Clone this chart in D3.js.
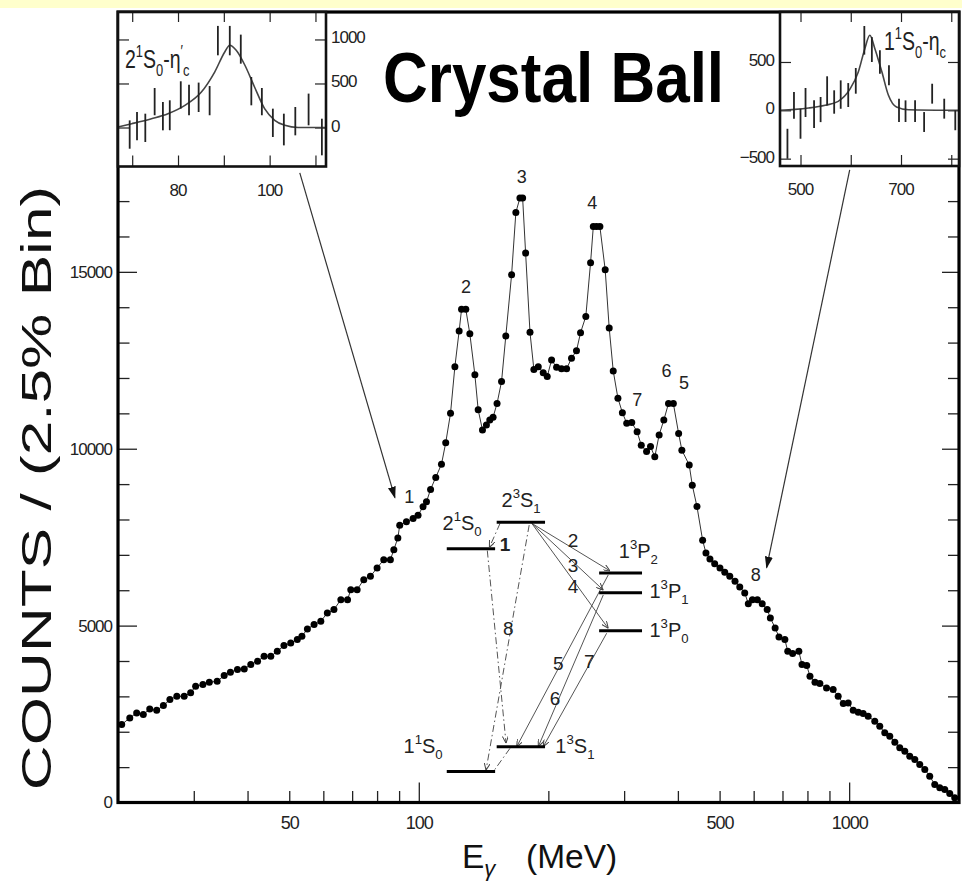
<!DOCTYPE html>
<html>
<head>
<meta charset="utf-8">
<script src="https://cdnjs.cloudflare.com/ajax/libs/d3/7.8.5/d3.min.js"></script>
<style>
  body { margin: 0; background: #fff; }
  svg { display: block; font-family: "Liberation Sans", Arial, Helvetica, sans-serif; }
</style>
</head>
<body>
<script>
// --- Spectrum: E_gamma (MeV) vs counts per 2.5% bin
var energy = [20.4, 21.3, 22.1, 22.9, 23.7, 24.6, 25.5, 26.4, 27.4, 28.5, 29.5, 30.3, 31.5, 32.6, 34.0, 35.3,
  36.5, 37.9, 39.3, 40.7, 42.2, 43.7, 45.3, 46.9, 48.6, 50.4, 52.2, 53.5, 55.1, 57.1, 59.2, 61.3, 63.5, 65.9,
  68.3, 69.5, 71.9, 74.5, 77.2, 80.0, 82.9, 85.9, 87.5, 89.4, 90.3, 93.6, 97.0, 99.6, 102.3, 104.2, 106.5,
  109.5, 112.9, 115.5, 118.5, 121.3, 124.1, 125.7, 128.6, 131.4, 135.0, 137.4, 140.6, 143.6, 146.2, 148.8,
  152.0, 155.7, 159.3, 164.3, 168.1, 171.8, 174.3, 177.1, 181.3, 185.1, 189.5, 194.6, 198.8, 203.5, 209.0,
  214.6, 220.5, 226.4, 232.5, 237.6, 244.4, 250.7, 254.4, 258.8, 263.5, 271.1, 277.0, 283.0, 290.2, 297.2,
  304.2, 312.5, 321.6, 328.8, 338.3, 345.5, 353.5, 361.8, 371.0, 380.4, 390.4, 401.6, 408.6, 425.0, 432.0,
  443.0, 456.6, 464.8, 474.8, 487, 501, 514, 528, 543, 557, 572, 583, 596, 612, 628, 645, 656, 673, 687,
  709, 720, 739, 764, 777, 797, 811, 833, 855, 886, 918, 943, 969, 995, 1022, 1050, 1078, 1107, 1147,
  1178, 1210, 1243, 1277, 1311, 1347, 1383, 1421, 1459, 1499, 1539, 1581, 1624, 1668, 1713, 1759];
var counts = [2203, 2392, 2533, 2486, 2646, 2607, 2740, 2910, 3003, 3003, 3099, 3285, 3333, 3398, 3427, 3588,
  3681, 3757, 3777, 3898, 3992, 4133, 4133, 4274, 4435, 4510, 4605, 4698, 4906, 5028, 5122, 5358, 5452, 5734,
  5734, 6017, 6017, 6299, 6393, 6630, 6864, 6864, 7147, 7477, 7840, 7934, 8030, 8123, 8360, 8500, 8850,
  9190, 9560, 10170, 11000, 12320, 13330, 13940, 13940, 13250, 12090, 11100, 10530, 10670, 10810, 10890,
  11280, 11900, 13190, 14920, 16680, 17090, 17090, 15530, 13290, 12240, 12320, 12150, 12040, 12510, 12300,
  12260, 12260, 12560, 12770, 13280, 13740, 15260, 16280, 16280, 16280, 15060, 13410, 12200, 11430, 11020,
  10720, 10740, 10480, 10100, 9920, 10060, 9770, 10390, 10810, 11280, 11280, 10430, 9960, 9540, 8970,
  8365, 7410, 7053, 6884, 6751, 6629, 6506, 6393, 6252, 6093, 5923, 5621, 5734, 5734, 5621, 5452, 5217, 4934, 4680,
  4605, 4274, 4209, 4274, 3898, 3870, 3568, 3398, 3362, 3240, 3192, 3003, 2797, 2816, 2607, 2551, 2514, 2438, 2297,
  2155, 1969, 1873, 1703, 1545, 1451, 1308, 1215, 1073, 932, 743, 508, 415, 367, 254, 133];

// --- Left inset: 2^1S0 - eta_c' (linear E)
var in1FitE = [66.9, 69.9, 74.2, 77.8, 81.5, 85.1, 88.0, 90.2, 91.3, 92.7, 94.6, 96.7, 98.9, 101.1, 103.3, 106.2, 112.3];
var in1FitV = [6, 43, 100, 157, 252, 403, 630, 858, 934, 877, 707, 460, 214, 82, 25, 0, 0];
var in1E = [69.45, 71.05, 72.86, 74.9, 76.7, 78.2, 80.6, 82.4, 84.5, 86.9, 88.7, 91.3, 93.7, 96.0, 98.3, 100.7, 103.1, 105.6, 108.5, 111.4];
var in1V = [-80, 15, -4, 294, 129, 139, 370, 313, 343, 305, 987, 987, 890, 413, 294, 53, -23, 72, 205, -108];
var in1Err = [161, 161, 161, 155, 161, 170, 155, 174, 167, 166, 167, 167, 165, 161, 155, 161, 180, 161, 180, 208];

// --- Right inset: 1^1S0 - eta_c
var in2FitE = [459, 489, 516, 549, 575, 599, 615, 628, 638, 648, 662, 675, 691, 715, 815];
var in2FitV = [0, 10, 24, 52, 93, 224, 396, 638, 776, 638, 396, 155, 34, 6, 0];
var in2E = [474, 487, 500, 510, 527, 540, 553, 567, 580, 595, 610, 627, 642, 658, 676, 696, 709, 728, 746, 762, 786, 808];
var in2V = [-346, 51, -139, 81, -40, 8, 202, 86, 163, 158, 305, 724, 629, 500, 362, 0, -9, -9, -121, 172, 17, -103];
var in2Err = [155, 138, 155, 150, 143, 130, 150, 121, 147, 124, 133, 148, 129, 121, 103, 120, 112, 112, 103, 103, 103, 103];

// tick labels
var xTickLabels = [50, 100, 500, 1000];
var yTickLabels = [0, 5000, 10000, 15000];
var in1XLabels = [80, 100], in1YLabels = [0, 500, 1000];
var in2XLabels = [500, 700], in2YLabels = [-500, 0, 500];

// peak numbers (E, counts)
var peakNames = ["1", "2", "3", "4", "7", "6", "5", "8"];
var peakE = [95, 128.7, 173.4, 253, 322, 376.6, 413.2, 606.7];
var peakC = [8630, 14585, 17692, 16941, 11384, 12184, 11856, 6441];

// level scheme (schematic units 0..100)
var levelNames = ["1^1S_0", "2^1S_0", "1^3S_1", "2^3S_1", "1^3P_0", "1^3P_1", "1^3P_2"];
var levelX0 = [2.6, 2.6, 21.8, 21.8, 61.2, 61.2, 61.2];
var levelX1 = [21.2, 21.2, 40.4, 40.4, 77.7, 77.7, 77.7];
var levelY = [2.9, 79.7, 11.5, 88.9, 51.5, 64.6, 71.4];
var levelLabelX = [-6.5, 8.5, 51.9, 31.2, 88.1, 88.1, 76.3];
var levelLabelY = [9.2, 86.2, 9.2, 94.1, 49.4, 62.7, 76.6];
// transitions [x0,y0] -> [x1,y1], dashed = M1 lines
var transFrom = [[23.1, 88.5], [35.3, 88.5], [35.3, 88.5], [35.3, 88.5], [64.7, 70.7], [62.8, 63.8], [64.1, 50.6], [18.2, 79.1], [34.3, 87.9], [26.9, 10.9]];
var transTo = [[19.0, 80.2], [65.4, 72.1], [62.8, 65.5], [64.7, 52.3], [29.5, 11.5], [37.8, 11.5], [39.7, 11.5], [25.4, 12.7], [17.7, 3.4], [20.5, 2.9]];
var transDashed = [true, false, false, false, false, false, false, true, true, true];
var transNames = ["1", "2", "3", "4", "5", "6", "7", "8"];
var transLabelX = [25, 51.2, 51.2, 51.2, 45.5, 44.2, 57.4, 26.3];
var transLabelY = [79.0, 80.4, 71.8, 64.4, 37.9, 25.9, 38.5, 50];

var W = 962, H = 883;
var svg = d3.select("body").append("svg").attr("width", W).attr("height", H);
svg.append("rect").attr("width", W).attr("height", H).attr("fill", "#fff");
svg.append("rect").attr("width", W).attr("height", 8).attr("fill", "#ffffcc");

var defs = svg.append("defs");
defs.append("marker").attr("id", "arr").attr("markerUnits", "userSpaceOnUse")
  .attr("markerWidth", 12).attr("markerHeight", 8).attr("refX", 11).attr("refY", 4).attr("orient", "auto")
  .append("path").attr("d", "M0,0 L12,4 L0,8 Z").attr("fill", "#111");
defs.append("marker").attr("id", "arrs").attr("markerUnits", "userSpaceOnUse")
  .attr("markerWidth", 7).attr("markerHeight", 6).attr("refX", 7).attr("refY", 3).attr("orient", "auto")
  .append("path").attr("d", "M0,0 L7,3 L0,6").attr("fill", "none").attr("stroke", "#444").attr("stroke-width", 1);

// scales
var x = d3.scaleLog().domain([20, 1800]).range([118, 959]);
var y = d3.scaleLinear().domain([0, 22345]).range([802.5, 12]);

// tick-only axes: drop the domain path and the (empty) labels
function styleTicks(g, w) {
  g.select(".domain").remove();
  g.selectAll(".tick text").remove();
  g.selectAll(".tick line").attr("stroke", "#222").attr("stroke-width", w);
}
function styleLabels(g, size) {
  g.select(".domain").remove();
  g.selectAll(".tick line").remove();
  g.selectAll(".tick text").attr("fill", "#222").attr("font-size", size)
    .attr("letter-spacing", -1).attr("font-family", "'Liberation Sans', Arial, sans-serif");
}

var yMinor = d3.range(1000, 22001, 1000).filter(function (d) { return d % 5000; });
var yMajor = [5000, 10000, 15000, 20000];
var xMinor = [30, 40, 50, 60, 70, 80, 90, 200, 300, 400, 500, 600, 700, 800, 900];
var xMajor = [100, 1000];

// main ticks
svg.append("g").attr("transform", "translate(118,0)")
  .call(d3.axisLeft(y).tickValues(yMinor).tickSize(-11.5)).call(styleTicks, 1.3);
svg.append("g").attr("transform", "translate(118,0)")
  .call(d3.axisLeft(y).tickValues(yMajor).tickSize(-19)).call(styleTicks, 1.3);
svg.append("g").attr("transform", "translate(959,0)")
  .call(d3.axisRight(y).tickValues(yMinor).tickSize(-11)).call(styleTicks, 1.3);
svg.append("g").attr("transform", "translate(959,0)")
  .call(d3.axisRight(y).tickValues(yMajor).tickSize(-17)).call(styleTicks, 1.3);
svg.append("g").attr("transform", "translate(0,802.5)")
  .call(d3.axisBottom(x).tickValues(xMinor).tickSize(-11.5)).call(styleTicks, 1.3);
svg.append("g").attr("transform", "translate(0,802.5)")
  .call(d3.axisBottom(x).tickValues(xMajor).tickSize(-20)).call(styleTicks, 1.3);

// main tick labels
svg.append("g").attr("transform", "translate(112,0)")
  .call(d3.axisLeft(y).tickValues(yTickLabels).tickSize(0).tickPadding(0).tickFormat(d3.format("d")))
  .call(styleLabels, 17);
svg.append("g").attr("transform", "translate(0,816)")
  .call(d3.axisBottom(x).tickValues(xTickLabels).tickSize(0).tickPadding(0).tickFormat(d3.format("d")))
  .call(styleLabels, 18);

// spectrum
var line = d3.line().x(function (d, i) { return x(energy[i]); }).y(function (d) { return y(d); });
svg.append("path").datum(counts).attr("d", line).attr("fill", "none").attr("stroke", "#333").attr("stroke-width", 1);
svg.append("g").selectAll("circle").data(counts).join("circle")
  .attr("cx", function (d, i) { return x(energy[i]); }).attr("cy", function (d) { return y(d); })
  .attr("r", 3.5).attr("fill", "#000");

// frame
svg.append("rect").attr("x", 118).attr("y", 12).attr("width", 841).attr("height", 790.5)
  .attr("fill", "none").attr("stroke", "#000").attr("stroke-width", 3.2);

// rich text with ^sup and _sub
function rich(sel, str, size) {
  var cur = 0;
  for (var i = 0; i < str.length; i++) {
    var ch = str[i], mode = 0;
    if (ch === "^") { mode = -1; ch = str[++i]; }
    else if (ch === "_") { mode = 1; ch = str[++i]; }
    var target = mode === -1 ? -0.45 * size : (mode === 1 ? 0.3 * size : 0);
    sel.append("tspan").attr("dy", target - cur).attr("font-size", mode ? size * 0.66 : size).text(ch);
    cur = target;
  }
}

// insets
function inset(opt) {
  var g = svg.append("g");
  var ix = d3.scaleLinear().domain(opt.xd).range(opt.xr);
  var iy = d3.scaleLinear().domain(opt.yd).range(opt.yr);
  g.append("rect").attr("x", opt.xr[0]).attr("y", opt.yr[1]).attr("width", opt.xr[1] - opt.xr[0])
    .attr("height", opt.yr[0] - opt.yr[1]).attr("fill", "#fff");
  g.append("g").attr("transform", "translate(0," + opt.yr[0] + ")")
    .call(d3.axisBottom(ix).tickValues(opt.xt).tickSize(-11)).call(styleTicks, 1.2);
  g.append("g").attr("transform", "translate(0," + opt.yr[1] + ")")
    .call(d3.axisTop(ix).tickValues(opt.xt).tickSize(-10)).call(styleTicks, 1.2);
  g.append("g").attr("transform", "translate(" + opt.xr[0] + ",0)")
    .call(d3.axisLeft(iy).tickValues(opt.yt).tickSize(-11)).call(styleTicks, 1.2);
  g.append("g").attr("transform", "translate(" + opt.xr[1] + ",0)")
    .call(d3.axisRight(iy).tickValues(opt.yt).tickSize(-11)).call(styleTicks, 1.2);
  var fit = d3.line().curve(d3.curveMonotoneX)
    .x(function (d, i) { return ix(opt.fitE[i]); }).y(function (d) { return iy(d); });
  g.append("path").datum(opt.fitV).attr("d", fit).attr("fill", "none").attr("stroke", "#444").attr("stroke-width", 1.6);
  g.append("g").selectAll("line").data(opt.v).join("line")
    .attr("x1", function (d, i) { return ix(opt.e[i]); }).attr("x2", function (d, i) { return ix(opt.e[i]); })
    .attr("y1", function (d, i) { return iy(d - opt.err[i]); }).attr("y2", function (d, i) { return iy(d + opt.err[i]); })
    .attr("stroke", "#222").attr("stroke-width", 1.8);
  g.append("rect").attr("x", opt.xr[0]).attr("y", opt.yr[1]).attr("width", opt.xr[1] - opt.xr[0])
    .attr("height", opt.yr[0] - opt.yr[1]).attr("fill", "none").attr("stroke", "#111").attr("stroke-width", 2.6);
  // labels
  g.append("g").selectAll("text").data(opt.xl).join("text")
    .attr("x", function (d) { return ix(d); }).attr("y", opt.yr[0] + 29).attr("text-anchor", "middle")
    .attr("font-size", 17).attr("letter-spacing", -1).attr("fill", "#222").text(function (d) { return d; });
  g.append("g").selectAll("text").data(opt.yl).join("text")
    .attr("x", opt.ylx).attr("y", function (d) { return iy(d) + 4; }).attr("text-anchor", opt.yla)
    .attr("font-size", 17).attr("letter-spacing", -1).attr("fill", "#222")
    .text(function (d) { return d < 0 ? "\u2212" + Math.abs(d) : d; });
  var t = g.append("text").attr("transform", "translate(" + opt.lab[0] + "," + opt.lab[1] + ") scale(0.78,1)")
    .attr("fill", "#222");
  rich(t, opt.name, 25);
}

inset({ xd: [66.9, 112.3], xr: [118, 326], yd: [-443, 1312], yr: [166.5, 12],
  xt: [70, 80, 90, 100, 110], yt: [0, 500, 1000], fitE: in1FitE, fitV: in1FitV, e: in1E, v: in1V, err: in1Err,
  xl: in1XLabels, yl: in1YLabels, ylx: 331, yla: "start", lab: [125, 68], name: "2^1S_0-\u03b7^\u2032_c" });
inset({ xd: [459.2, 815.4], xr: [780, 959], yd: [-576, 1017], yr: [166, 12],
  xt: [500, 600, 700, 800], yt: [-500, 0, 500], fitE: in2FitE, fitV: in2FitV, e: in2E, v: in2V, err: in2Err,
  xl: in2XLabels, yl: in2YLabels, ylx: 774, yla: "end", lab: [884, 50], name: "1^1S_0-\u03b7_c" });

// arrows from insets to their peaks
var arrowFrom = [[52.9, 17797], [1003, 17881]];
var arrowTo = [[88.0, 8616], [643, 6638]];
svg.append("g").selectAll("line").data(arrowFrom).join("line")
  .attr("x1", function (d) { return x(d[0]); }).attr("y1", function (d) { return y(d[1]); })
  .attr("x2", function (d, i) { return x(arrowTo[i][0]); }).attr("y2", function (d, i) { return y(arrowTo[i][1]); })
  .attr("stroke", "#333").attr("stroke-width", 1.2).attr("marker-end", "url(#arr)");

// peak numbers
svg.append("g").selectAll("text").data(peakNames).join("text")
  .attr("x", function (d, i) { return x(peakE[i]); }).attr("y", function (d, i) { return y(peakC[i]) + 6; })
  .attr("text-anchor", "middle").attr("font-size", 18).attr("fill", "#222").text(function (d) { return d; });

// level scheme
var dX = d3.scaleLinear().domain([0, 100]).range([440, 700]);
var dY = d3.scaleLinear().domain([0, 100]).range([780, 490]);
var lev = svg.append("g");
lev.selectAll("line.tr").data(transFrom).join("line").attr("class", "tr")
  .attr("x1", function (d) { return dX(d[0]); }).attr("y1", function (d) { return dY(d[1]); })
  .attr("x2", function (d, i) { return dX(transTo[i][0]); }).attr("y2", function (d, i) { return dY(transTo[i][1]); })
  .attr("stroke", "#555").attr("stroke-width", 1)
  .attr("stroke-dasharray", function (d, i) { return transDashed[i] ? "7,3,1.5,3" : null; })
  .attr("marker-end", function (d, i) { return i === 9 ? null : "url(#arrs)"; });
lev.selectAll("line.lv").data(levelY).join("line").attr("class", "lv")
  .attr("x1", function (d, i) { return dX(levelX0[i]); }).attr("x2", function (d, i) { return dX(levelX1[i]); })
  .attr("y1", function (d) { return dY(d); }).attr("y2", function (d) { return dY(d); })
  .attr("stroke", "#000").attr("stroke-width", 3);
levelNames.forEach(function (n, i) {
  var t = lev.append("text").attr("x", dX(levelLabelX[i])).attr("y", dY(levelLabelY[i]))
    .attr("text-anchor", "middle").attr("fill", "#222");
  rich(t, n, 20);
});
lev.selectAll("text.tn").data(transNames).join("text").attr("class", "tn")
  .attr("x", function (d, i) { return dX(transLabelX[i]); }).attr("y", function (d, i) { return dY(transLabelY[i]); })
  .attr("text-anchor", "middle").attr("font-size", 19).attr("fill", "#222")
  .attr("font-weight", function (d, i) { return i === 0 ? "bold" : null; })
  .text(function (d) { return d; });

// titles (stretched vertically rather than squeezed, so the box stays true)
svg.append("text").attr("transform", "translate(383,101.5) scale(1,1.13)")
  .attr("font-size", 62).attr("font-weight", "bold").attr("fill", "#000").text("Crystal Ball");

var xt = svg.append("text").attr("x", 462).attr("y", 868).attr("font-size", 33.5).attr("fill", "#111");
xt.append("tspan").text("E");
xt.append("tspan").attr("font-size", 22).attr("font-style", "italic").attr("dy", 8).text("\u03b3");
xt.append("tspan").attr("x", 526).attr("dy", -8).text("(MeV)");

svg.append("text").attr("transform", "translate(51,488) rotate(-90) scale(1.48,1)").attr("text-anchor", "middle")
  .attr("font-size", 42).attr("fill", "#111")
  .text("COUNTS / (2.5% Bin)");
</script>
</body>
</html>
